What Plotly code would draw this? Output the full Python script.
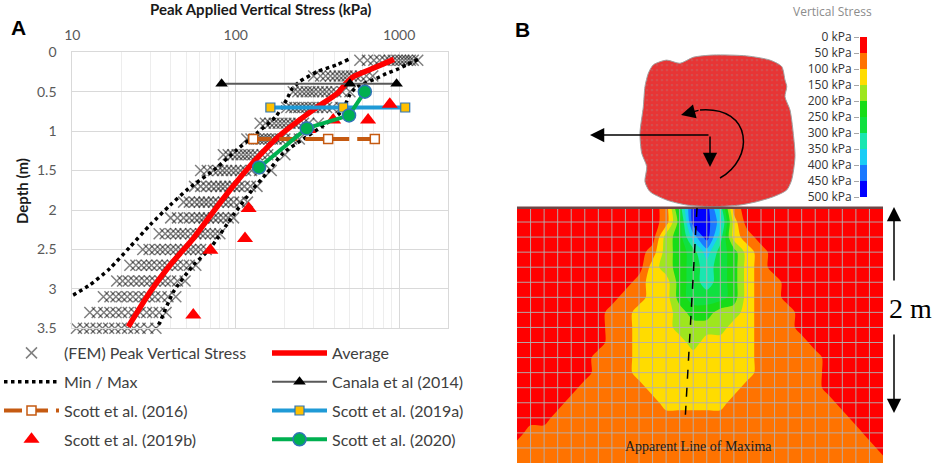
import math
import plotly.graph_objects as go

W, H = 934, 465

# ---------------- panel A : depth profiles (kPa vs m) ----------------
fem_depth = [0.1, 0.3, 0.5, 0.7, 0.9, 1.1, 1.3, 1.5, 1.7, 1.9, 2.1, 2.3, 2.5, 2.7, 2.9, 3.1, 3.3, 3.5]
fem_kpa = [
    [575, 640, 700, 760, 820, 870, 920, 970, 1020, 1070, 1120, 1170, 1220, 1300],
    [300, 330, 355, 380, 405, 430, 455, 480, 510, 540, 580, 630, 690],
    [225, 240, 255, 270, 285, 300, 320, 340, 360, 385, 410, 450, 500],
    [205, 218, 230, 243, 256, 270, 285, 300, 318, 338, 360, 390, 440],
    [141, 152, 162, 172, 182, 192, 203, 215, 228, 243, 260, 280, 320],
    [117, 124, 131, 138, 145, 152, 160, 168, 177, 188, 200, 220, 245],
    [84, 90, 96, 102, 108, 114, 120, 127, 135, 145, 157, 172, 200],
    [61, 67, 73, 78, 83, 88, 94, 100, 107, 115, 125, 140, 165],
    [56, 61, 66, 71, 76, 81, 86, 92, 98, 105, 113, 123, 135],
    [48, 52, 56, 60, 64, 68, 73, 78, 84, 90, 97, 106, 118],
    [40, 44, 48, 52, 56, 60, 64, 68, 73, 78, 84, 90, 97],
    [34, 37, 40, 43, 46, 49, 53, 57, 61, 65, 70, 75, 80],
    [27, 29.5, 32, 34.5, 37, 40, 43, 46, 49.5, 53, 57, 61, 66],
    [22.5, 24.5, 26.5, 28.5, 30.5, 33, 35.5, 38, 41, 44, 48, 52, 57],
    [18.7, 20.3, 22, 23.8, 25.6, 27.6, 29.7, 32, 34.5, 37, 40, 44, 49],
    [15.5, 17, 18.5, 20, 21.7, 23.5, 25.5, 27.5, 29.7, 32, 35, 38.5, 43],
    [12.8, 14.2, 15.6, 17, 18.5, 20, 22, 24, 26, 28.5, 31, 34, 37.5],
    [10.6, 11.7, 12.8, 14, 15.3, 16.7, 18.2, 20, 21.8, 23.8, 26, 29, 32.5],
]

avg_depth = [0.09, 0.20, 0.31, 0.40, 0.52, 0.73, 1.09, 1.47, 1.75, 2.02, 2.36, 2.70, 3.04, 3.48]
avg_kpa = [930, 700, 524, 470, 420, 298, 178, 119, 92, 73, 55, 39.6, 29.9, 22]

min_depth = [0.09, 0.16, 0.24, 0.37, 0.46, 0.60, 0.82, 1.03, 1.24, 1.47, 1.73, 1.94, 2.19, 2.47, 2.74, 2.95, 3.08]
min_kpa = [490, 414, 320, 247, 222, 205, 175, 134, 101, 76, 51.3, 39.6, 29.9, 22.5, 17, 12.8, 10.1]

max_depth = [0.09, 0.16, 0.22, 0.27, 0.33, 0.44, 0.54, 0.63, 0.77, 0.90, 1.07, 1.28, 1.54, 1.73, 2.06, 2.49, 2.70, 3.04, 3.42, 3.50]
max_kpa = [1306, 1109, 964, 837, 728, 548, 499, 476, 434, 360, 272, 195, 154, 128, 97, 69.5, 55, 41.5, 34.4, 32.8]

canala_depth = [0.4, 0.4, 0.4]
canala_kpa = [82, 500, 965]

scott16_depth = [1.1, 1.1, 1.1]
scott16_kpa = [128, 368, 710]

scott19a_depth = [0.7, 0.7, 0.7]
scott19a_kpa = [163, 455, 1090]

scott19b_depth = [0.66, 0.86, 0.86, 0.98, 1.98, 2.36, 2.51, 3.33]
scott19b_kpa = [877, 646, 395, 278, 120, 114, 70, 55]

scott20_depth = [0.50, 0.80, 0.965, 1.46]
scott20_kpa = [617, 494, 272, 139]

# ---------------- panel B : FEM vertical stress field ----------------
# one digit per mesh node = stress band (0 -> 0-50 kPa ... 9 -> 450-500 kPa)
field_rows = [
    "0000000000015996100000000000",
    "0000000000014997200000000000",
    "0000000000034796210000000000",
    "0000000000134575421000000000",
    "0000000000234565421000000000",
    "0000000001224565421100000000",
    "0000000011224555421100000000",
    "0000000112223443321110000000",
    "0000000112223333221110000000",
    "0000000112222322221111000000",
    "0000001112222222221111100000",
    "0000001112222222221111100000",
    "0000011111222222211111100000",
    "0000111111122222111111110000",
    "0001111111111111111111111000",
    "0111111111111111111111111100",
    "1111111111111111111111111110",
    "1111111111111111111111111111",
]
band_kpa = [0, 50, 100, 150, 200, 250, 300, 350, 400, 450, 500]
band_colors = ["#ff0000", "#ff7300", "#ffdc00", "#9ee61e", "#18dc18",
               "#10e040", "#1ae6b0", "#1accf5", "#1a78ff", "#0000ff"]

# outline of the loaded particle (mesh units)
particle_col = [10.05, 11.04, 12.02, 13.01, 14.48, 16.94, 18.66, 19.53, 19.77, 19.90,
                19.77, 20.14, 20.38, 20.51, 20.26, 19.90, 18.91, 17.68, 16.45, 14.48,
                12.52, 11.04, 9.81, 9.44, 9.57, 9.20, 9.07, 9.32, 9.44, 9.69]
particle_row = [-9.43, -9.75, -9.54, -9.94, -10.09, -10.03, -9.75, -9.32, -8.43, -7.99,
                -7.32, -6.44, -4.89, -3.34, -1.79, -1.13, -0.68, -0.35, -0.13, -0.02,
                -0.13, -0.46, -1.02, -1.68, -2.68, -3.57, -4.89, -6.66, -7.99, -8.88]


def px(x):
    return x / W


def py(y):
    return 1 - y / H


FONT = "Lato, sans-serif"
SERIF = "Liberation Serif, Times New Roman, serif"

fig = go.Figure()

# FEM scatter
fx, fy = [], []
for d, vals in zip(fem_depth, fem_kpa):
    fx += vals
    fy += [d] * len(vals)
fig.add_trace(go.Scatter(
    x=fx, y=fy, mode="markers", name="(FEM) Peak Vertical Stress",
    marker=dict(symbol="x-thin", size=11, color="rgba(0,0,0,0.5)",
                line=dict(width=1.5, color="rgba(0,0,0,0.5)")),
    cliponaxis=False, legend="legend", legendgroup="fem", hoverinfo="skip"))

fig.add_trace(go.Scatter(
    x=avg_kpa, y=avg_depth, mode="lines", name="Average",
    line=dict(color="#ff0000", width=5.5, shape="spline", smoothing=0.6),
    legend="legend2", legendgroup="avg"))

fig.add_trace(go.Scatter(
    x=min_kpa, y=min_depth, mode="lines", name="Min / Max",
    line=dict(color="black", width=3.5, dash="dot", shape="spline", smoothing=0.6),
    legend="legend", legendgroup="mm"))
fig.add_trace(go.Scatter(
    x=max_kpa, y=max_depth, mode="lines", name="Min / Max", showlegend=False,
    line=dict(color="black", width=3.5, dash="dot", shape="spline", smoothing=0.6),
    legend="legend", legendgroup="mm"))

fig.add_trace(go.Scatter(
    x=canala_kpa, y=canala_depth, mode="lines+markers", name="Canala et al (2014)",
    line=dict(color="#595959", width=2),
    marker=dict(symbol="triangle-up", size=11, color="black"),
    legend="legend2", legendgroup="can"))

fig.add_trace(go.Scatter(
    x=scott16_kpa, y=scott16_depth, mode="lines+markers", name="Scott et al. (2016)",
    line=dict(color="#c55a11", width=4, dash="18px,8px"),
    marker=dict(symbol="square", size=9, color="white", line=dict(color="#c55a11", width=1.5)),
    legend="legend", legendgroup="s16"))

fig.add_trace(go.Scatter(
    x=scott19a_kpa, y=scott19a_depth, mode="lines+markers", name="Scott et al. (2019a)",
    line=dict(color="#1f9ad6", width=4),
    marker=dict(symbol="square", size=9, color="#ffc000", line=dict(color="#2e75b6", width=1.2)),
    legend="legend2", legendgroup="s19a"))

fig.add_trace(go.Scatter(
    x=scott19b_kpa, y=scott19b_depth, mode="markers", name="Scott et al. (2019b)",
    marker=dict(symbol="triangle-up", size=14, color="#ff0000"),
    legend="legend", legendgroup="s19b"))

fig.add_trace(go.Scatter(
    x=scott20_kpa, y=scott20_depth, mode="lines+markers", name="Scott et al. (2020)",
    line=dict(color="#00b050", width=4),
    marker=dict(symbol="circle", size=13, color="#00b050", line=dict(color="#2e75b6", width=1.5)),
    legend="legend2", legendgroup="s20"))

# ---- panel B: stress field as filled contours on the mesh nodes
field_z = [[band_kpa[int(c)] + 25 for c in row] for row in field_rows]
fig.add_trace(go.Contour(
    x=list(range(len(field_rows[0]))), y=list(range(len(field_rows))), z=field_z,
    contours=dict(start=50, end=450, size=50, coloring="fill", showlines=False),
    colorscale=[[i / 9, c] for i, c in enumerate(band_colors)],
    line=dict(width=0, smoothing=0.8), showscale=False,
    xaxis="x2", yaxis="y2", hoverinfo="skip", showlegend=False))

# the particle
fig.add_trace(go.Scatter(
    x=particle_col + particle_col[:1], y=particle_row + particle_row[:1],
    mode="lines", fill="toself", fillcolor="#ff2a2a",
    fillpattern=dict(shape=".", bgcolor="#cf5656", fgcolor="#ff1414", size=5, solidity=0.8),
    line=dict(color="#a0a0a0", width=1, shape="spline", smoothing=0.7),
    xaxis="x2", yaxis="y2", hoverinfo="skip", showlegend=False))

# colour bar built from the stress bands
cs = []
for i, c in enumerate(band_colors):
    cs += [[i / 10, c], [(i + 1) / 10, c]]
fig.add_trace(go.Heatmap(
    x=[0], y=[(a + b) / 2 for a, b in zip(band_kpa[:-1], band_kpa[1:])],
    z=[[i] for i in range(len(band_colors))], colorscale=cs,
    zmin=-0.5, zmax=len(band_colors) - 0.5, showscale=False,
    xaxis="x3", yaxis="y3", hoverinfo="skip"))

shapes = []
ncol, nrow = len(field_rows[0]), len(field_rows)
mesh = "rgba(178,178,178,0.9)"
for c in range(1, ncol - 1):
    shapes.append(dict(type="line", xref="x2", yref="y2", x0=c, x1=c, y0=0, y1=nrow - 1,
                       line=dict(color=mesh, width=1)))
for r in range(1, nrow - 1):
    shapes.append(dict(type="line", xref="x2", yref="y2", x0=0, x1=ncol - 1, y0=r, y1=r,
                       line=dict(color=mesh, width=1)))
shapes.append(dict(type="line", xref="x2", yref="y2", x0=0, x1=ncol - 1, y0=0.05, y1=0.05,
                   line=dict(color="#6e4646", width=2.5)))
# apparent line of maxima
shapes.append(dict(type="line", xref="x2", yref="y2", x0=13.28, y0=0.07, x1=12.39, y1=14.34,
                   line=dict(color="black", width=1.5, dash="dash")))
# rotation arrow
shapes.append(dict(type="path", xref="paper", yref="paper",
                   path=f"M {px(720)},{py(178)} C {px(754)},{py(160)} {px(754)},{py(106)} {px(700)},{py(110)}",
                   line=dict(color="black", width=1.5)))


def arrow(x, y, ax, ay, size=1.9):
    return dict(x=px(x), y=py(y), xref="paper", yref="paper", ax=ax, ay=ay, text="",
                showarrow=True, arrowhead=2, arrowsize=size, arrowwidth=1.5, arrowcolor="black")


def label(x, y, text, font, **kw):
    return dict(x=px(x), y=py(y), xref="paper", yref="paper", text=text, showarrow=False,
                xanchor="center", yanchor="middle", font=font, **kw)


annotations = [
    label(18, 27, "<b>A</b>", dict(family="Liberation Sans, Arial", size=21, color="black")),
    label(522, 29, "<b>B</b>", dict(family="Liberation Sans, Arial", size=21, color="black")),
    label(260, 9, "<b>Peak Applied Vertical Stress (kPa)</b>", dict(family=FONT, size=15, color="#1a1a1a")),
    label(22, 191, "<b>Depth (m)</b>", dict(family=FONT, size=15, color="#1a1a1a"), textangle=-90),
    label(832, 12, "Vertical Stress", dict(family="Open Sans, sans-serif", size=12, color="#8c8c8c")),
    label(910, 308, "2 m", dict(family=SERIF, size=28, color="black")),
    label(698, 446, "Apparent Line of Maxima", dict(family=SERIF, size=14, color="#1a1a1a")),
    arrow(590, 135, 120, 0),
    arrow(710, 167, 0, -32),
    arrow(681, 115, 19, -5),
    arrow(894, 207, 0, 75),
    arrow(894, 413, 0, -80),
]

grid = "#d9d9d9"
fig.update_layout(
    width=W, height=H, margin=dict(l=0, r=0, t=0, b=0, autoexpand=False),
    paper_bgcolor="white", plot_bgcolor="white",
    font=dict(family=FONT, color="#595959"),
    xaxis=dict(type="log", range=[1, math.log10(2000)], domain=[px(72.3), px(448.3)],
               side="top", anchor="y", dtick=1, showgrid=True, gridcolor=grid,
               minor=dict(dtick="D1", showgrid=True, gridcolor="#ededed", ticks=""),
               showline=True, linecolor=grid, mirror=True, zeroline=False, automargin=False,
               tickfont=dict(size=14, color="#595959"), ticklabelstandoff=6),
    yaxis=dict(range=[3.5, 0], domain=[py(328.3), py(52.3)], anchor="x", dtick=0.5,
               showgrid=True, gridcolor=grid, zeroline=False, automargin=False,
               showline=True, linecolor=grid, mirror=True,
               tickfont=dict(size=14, color="#595959"), ticklabelstandoff=12),
    xaxis2=dict(domain=[px(517), px(883)], range=[0, ncol - 1], anchor="y2", visible=False,
                automargin=False),
    yaxis2=dict(domain=[py(463), py(30)], range=[nrow - 1, -11.75], anchor="x2", visible=False,
                automargin=False),
    xaxis3=dict(domain=[px(860), px(867)], range=[-0.5, 0.5], anchor="y3", visible=False,
                automargin=False),
    yaxis3=dict(domain=[py(197), py(37)], range=[500, 0], anchor="x3", side="left",
                tickvals=band_kpa, ticktext=[f"{v} kPa" for v in band_kpa],
                ticks="outside", ticklen=5, tickcolor="#a6a6a6", showgrid=False,
                zeroline=False, showline=False, automargin=False,
                tickfont=dict(family="Open Sans, sans-serif", size=12, color="#333333")),
    legend=dict(x=px(-1), y=py(336), xanchor="left", yanchor="top", itemwidth=55,
                tracegroupgap=5, bgcolor="rgba(0,0,0,0)",
                font=dict(family=FONT, size=16, color="#404040")),
    legend2=dict(x=px(267), y=py(336), xanchor="left", yanchor="top", itemwidth=55,
                 tracegroupgap=5, bgcolor="rgba(0,0,0,0)",
                 font=dict(family=FONT, size=16, color="#404040")),
    shapes=shapes,
    annotations=annotations,
)

fig.write_html("out.html", config={"displayModeBar": False},
               post_script="document.body.style.margin = '0px';")
